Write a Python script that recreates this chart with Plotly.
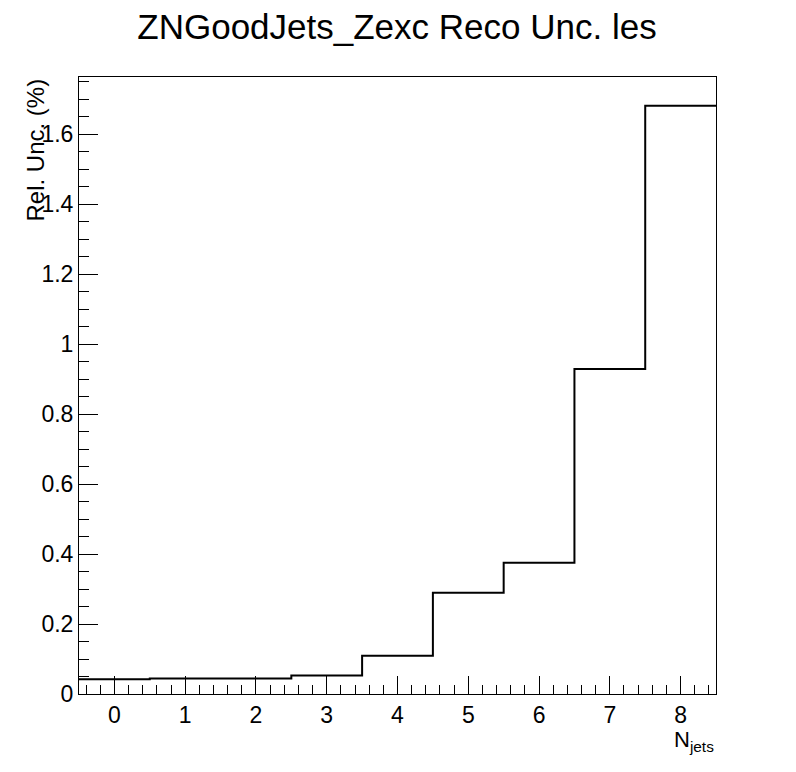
import plotly.graph_objects as go

categories = [0, 1, 2, 3, 4, 5, 6, 7, 8]
rel_unc = [0.042, 0.044, 0.044, 0.053, 0.109, 0.289, 0.375, 0.929, 1.681]
y_tick_vals = [0, 0.2, 0.4, 0.6, 0.8, 1.0, 1.2, 1.4, 1.6]
y_tick_text = ["0", "0.2", "0.4", "0.6", "0.8", "1", "1.2", "1.4", "1.6"]

edges = [c - 0.5 for c in categories] + [categories[-1] + 0.5]
yvals = rel_unc + [rel_unc[-1]]

FONT = "Liberation Sans, Arial, sans-serif"

# page body has an 8px margin; figure sized so that the page is 796x772
fig = go.Figure()
fig.add_trace(go.Scatter(
    x=edges, y=yvals, mode="lines",
    line=dict(shape="hv", color="black", width=2),
    showlegend=False, hoverinfo="skip",
))

fig.update_layout(
    width=780, height=756,
    margin=dict(l=71, r=72, t=69, b=70),
    paper_bgcolor="white", plot_bgcolor="white",
    font=dict(family=FONT, size=23, color="black"),
    title=dict(text="ZNGoodJets_Zexc Reco Unc. les", x=(397 - 8) / 780, xanchor="center",
               y=1 - (27 - 8) / 756, yanchor="middle", font=dict(size=35, family=FONT)),
    xaxis=dict(
        range=[-0.5, 8.5], tickmode="array", tickvals=categories,
        ticks="inside", ticklen=18, tickwidth=1, tickcolor="black",
        showline=True, linecolor="black", linewidth=1, mirror=True,
        showgrid=False, zeroline=False,
        minor=dict(ticks="inside", ticklen=9, tickwidth=1, tickcolor="black",
                   tick0=0, dtick=0.2, showgrid=False),
        tickfont=dict(size=23),
    ),
    yaxis=dict(
        range=[0, 1.763], tickmode="array", tickvals=y_tick_vals, ticktext=y_tick_text,
        ticks="inside", ticklen=19, tickwidth=1, tickcolor="black",
        showline=True, linecolor="black", linewidth=1, mirror=True,
        showgrid=False, zeroline=False,
        minor=dict(ticks="inside", ticklen=10, tickwidth=1, tickcolor="black",
                   tick0=0, dtick=0.05, showgrid=False),
        tickfont=dict(size=23),
    ),
    annotations=[
        dict(text="Rel. Unc. (%)", textangle=-90, xref="paper", yref="paper",
             x=(35 - 79) / 637, y=1.0, xanchor="center", yanchor="top", showarrow=False,
             font=dict(size=24, family=FONT)),
        dict(text="N<sub>jets</sub>", xref="paper", yref="paper",
             x=1.0, y=-0.05, xanchor="right", yanchor="top", showarrow=False,
             font=dict(size=22, family=FONT)),
    ],
)

fig.write_html("out.html")
